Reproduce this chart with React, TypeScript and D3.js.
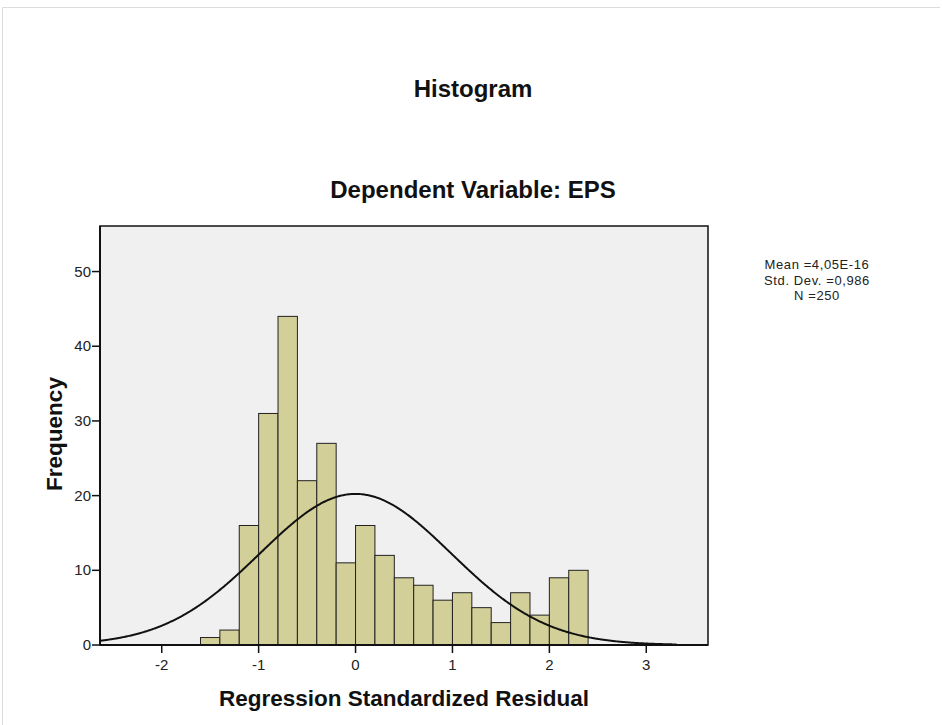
import React from "react";
import * as d3 from "d3";

const binStarts = [-1.6, -1.4, -1.2, -1.0, -0.8, -0.6, -0.4, -0.2, 0.0, 0.2, 0.4, 0.6, 0.8, 1.0, 1.2, 1.4, 1.6, 1.8, 2.0, 2.2];
const counts = [1, 2, 16, 31, 44, 22, 27, 11, 16, 12, 9, 8, 6, 7, 5, 3, 7, 4, 9, 10];
const binWidth = 0.2;
const xTicks = [-2, -1, 0, 1, 2, 3];
const yTicks = [0, 10, 20, 30, 40, 50];
const meanVal = 0;
const sdVal = 0.986;
const nVal = 250;
const legendLines = ["Mean =4,05E-16", "Std. Dev. =0,986", "N =250"];

export default function App() {
  const W = 942, H = 725;
  const left = 100, right = 708, top = 226, bottom = 645;
  const x = d3.scaleLinear().domain([-2.637, 3.637]).range([left, right]);
  const y = d3.scaleLinear().domain([0, 56.1]).range([bottom, top]);

  const curveXs = d3.range(-2.637, 3.32, 0.01);
  const pdf = (v: number) =>
    (nVal * binWidth) / (sdVal * Math.sqrt(2 * Math.PI)) * Math.exp(-0.5 * ((v - meanVal) / sdVal) ** 2);
  const line = d3.line<number>().x((d) => x(d)).y((d) => y(pdf(d))).curve(d3.curveBasis);

  const font = "Arial, 'Liberation Sans', Helvetica, sans-serif";

  return (
    <svg width={W} height={H} style={{ position: "absolute", left: 0, top: 0, fontFamily: font }}>
      <rect x={0} y={0} width={W} height={H} fill="#fff" />
      <path d={`M2.5,${H} V7.5 H940`} fill="none" stroke="#dcdcdc" strokeWidth={1} />
      <text x={473} y={97} textAnchor="middle" fontSize={24} fontWeight="bold" fill="#111">Histogram</text>
      <text x={473} y={198} textAnchor="middle" fontSize={24} fontWeight="bold" fill="#111">Dependent Variable: EPS</text>

      <rect x={left} y={top} width={right - left} height={bottom - top} fill="#f0f0f0" stroke="#111" strokeWidth={1.5} />

      {counts.map((c, i) => (
        <rect
          key={i}
          x={x(binStarts[i])}
          y={y(c)}
          width={x(binStarts[i] + binWidth) - x(binStarts[i])}
          height={y(0) - y(c)}
          fill="#d3cf98"
          stroke="#222"
          strokeWidth={1}
        />
      ))}

      <path d={line(curveXs) || ""} fill="none" stroke="#111" strokeWidth={2} />

      <line x1={left} x2={right} y1={bottom} y2={bottom} stroke="#111" strokeWidth={2} />
      <line x1={left} x2={left} y1={top} y2={bottom} stroke="#111" strokeWidth={2} />

      {yTicks.map((t) => (
        <g key={t}>
          <line x1={left - 8} x2={left} y1={y(t)} y2={y(t)} stroke="#111" strokeWidth={1.5} />
          <text x={left - 9} y={y(t) + 5} textAnchor="end" fontSize={15} fill="#222">{t}</text>
        </g>
      ))}
      {xTicks.map((t) => (
        <g key={t}>
          <line x1={x(t)} x2={x(t)} y1={bottom} y2={bottom + 8} stroke="#111" strokeWidth={1.5} />
          <text x={x(t)} y={bottom + 25} textAnchor="middle" fontSize={15} fill="#222">{t}</text>
        </g>
      ))}

      <text x={404} y={706} textAnchor="middle" fontSize={22.5} fontWeight="bold" fill="#111">Regression Standardized Residual</text>
      <text transform={`translate(62,434) rotate(-90)`} textAnchor="middle" fontSize={22.5} fontWeight="bold" fill="#111">Frequency</text>

      {legendLines.map((s, i) => (
        <text key={i} x={817} y={269 + i * 15.5} textAnchor="middle" fontSize={13} letterSpacing={0.6} fill="#222">{s}</text>
      ))}
    </svg>
  );
}
